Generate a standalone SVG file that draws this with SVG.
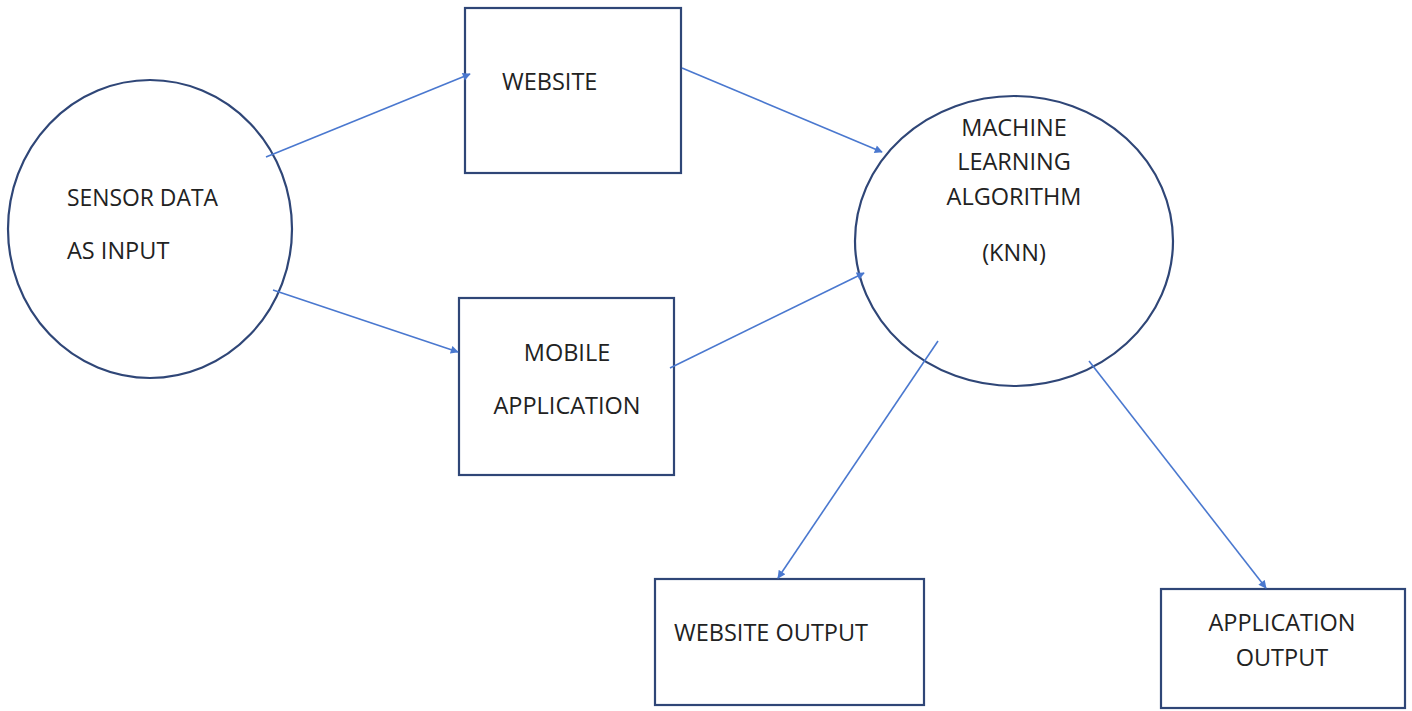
<svg xmlns="http://www.w3.org/2000/svg" width="1412" height="711" viewBox="0 0 1412 711">
<style>
.shape{fill:#fff;stroke:#2f4677;stroke-width:2.2}
.lbl{font-family:"Open Sans","Liberation Sans",sans-serif;font-size:23.5px;fill:#222}
.conn{stroke:#4a78cf;stroke-width:1.6;fill:none;marker-end:url(#ah)}
</style>
<defs>
<marker id="ah" viewBox="0 0 10 10" refX="9" refY="5" markerWidth="9" markerHeight="8" markerUnits="userSpaceOnUse" orient="auto">
<path d="M0,0 L10,5 L0,10 z" fill="#4a78cf"/>
</marker>
</defs>
<rect width="1412" height="711" fill="#fff"/>
<g id="sensor">
<ellipse class="shape" cx="150" cy="229" rx="142" ry="149"/>
<text class="lbl" x="67" y="206" textLength="151" lengthAdjust="spacingAndGlyphs">SENSOR DATA</text>
<text class="lbl" x="67" y="259">AS INPUT</text>
</g>
<g id="website">
<rect class="shape" x="465" y="8" width="216" height="165"/>
<text class="lbl" x="502" y="90">WEBSITE</text>
</g>
<g id="mobile">
<rect class="shape" x="459" y="298" width="215" height="177"/>
<text class="lbl" x="567" y="361" text-anchor="middle">MOBILE</text>
<text class="lbl" x="567" y="414" text-anchor="middle">APPLICATION</text>
</g>
<g id="ml">
<ellipse class="shape" cx="1014" cy="241" rx="159" ry="145"/>
<text class="lbl" x="1014" y="136" text-anchor="middle">MACHINE</text>
<text class="lbl" x="1014" y="170" text-anchor="middle">LEARNING</text>
<text class="lbl" x="1014" y="205" text-anchor="middle">ALGORITHM</text>
<text class="lbl" x="1014" y="261" text-anchor="middle">(KNN)</text>
</g>
<g id="webout">
<rect class="shape" x="655" y="579" width="269" height="126"/>
<text class="lbl" x="674" y="641">WEBSITE OUTPUT</text>
</g>
<g id="appout">
<rect class="shape" x="1161" y="589" width="244" height="119"/>
<text class="lbl" x="1282" y="631" text-anchor="middle">APPLICATION</text>
<text class="lbl" x="1282" y="666" text-anchor="middle">OUTPUT</text>
</g>
<g id="connectors">
<line class="conn" x1="266" y1="157" x2="470" y2="74"/>
<line class="conn" x1="273" y1="290" x2="458" y2="352"/>
<line class="conn" x1="682" y1="68" x2="882" y2="152"/>
<line class="conn" x1="670" y1="368" x2="864" y2="273"/>
<line class="conn" x1="938" y1="341" x2="778" y2="578"/>
<line class="conn" x1="1089" y1="361" x2="1266" y2="588"/>
</g>
</svg>
